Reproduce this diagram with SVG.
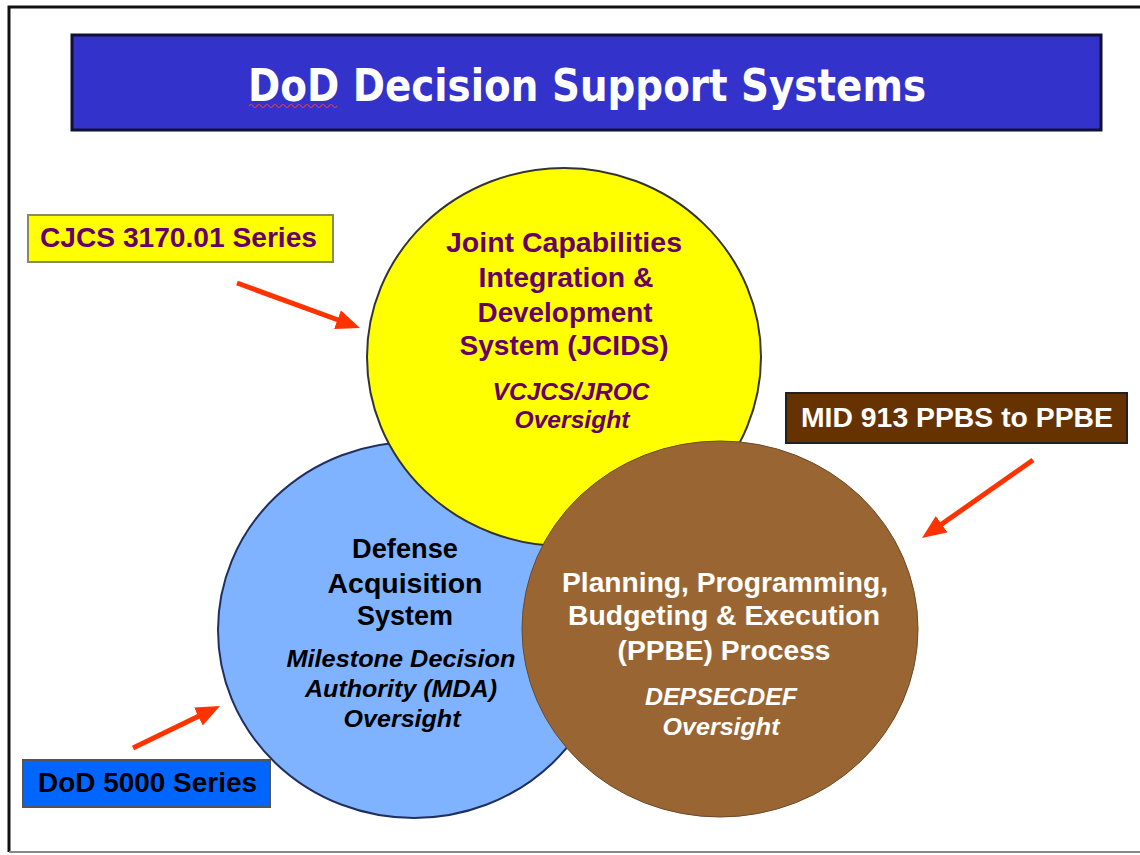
<svg xmlns="http://www.w3.org/2000/svg" width="1140" height="855" viewBox="0 0 1140 855">
<defs>
<style>
.t{font-family:"Liberation Sans",Arial,sans-serif;font-weight:bold;text-anchor:middle}
.m{font-size:27px}
.i{font-size:24px;font-style:italic}
.pur{fill:#660066}
.blk{fill:#000000}
.wht{fill:#FFFFFF}
.arrow{stroke:#FF3300;stroke-width:5;fill:none;marker-end:url(#ah)}
</style>
<marker id="ah" markerUnits="userSpaceOnUse" markerWidth="26" markerHeight="22" refX="11" refY="10" orient="auto">
<path d="M0,0 L24,10 L0,20 z" fill="#FF3300"/>
</marker>
</defs>
<rect x="0" y="0" width="1140" height="855" fill="#FFFFFF"/>
<path d="M9,852 L9,7 L1140,7" fill="none" stroke="#111111" stroke-width="3"/>
<line x1="9" y1="852" x2="1140" y2="852" stroke="#888888" stroke-width="2"/>

<g id="title">
<rect x="72" y="35" width="1029" height="95" fill="#3333CC" stroke="#111133" stroke-width="3"/>
<text x="587" y="101" textLength="678" lengthAdjust="spacingAndGlyphs" style="font-family:'DejaVu Sans',Verdana,sans-serif;font-weight:bold;font-size:45px;fill:#FFFFFF;text-anchor:middle">DoD Decision Support Systems</text>
<path d="M249,106 q2,-3 4,0 t4,0 t4,0 t4,0 t4,0 t4,0 t4,0 t4,0 t4,0 t4,0 t4,0 t4,0 t4,0 t4,0 t4,0 t4,0 t4,0 t4,0 t4,0 t4,0 t4,0 t4,0" fill="none" stroke="#DD4444" stroke-width="1.2"/>
</g>

<g id="das">
<ellipse cx="414" cy="630" rx="196" ry="188" fill="#80B3FF" stroke="#1F2F5F" stroke-width="2"/>
<text class="t m blk" x="405" y="558" textLength="106" lengthAdjust="spacingAndGlyphs">Defense</text>
<text class="t m blk" x="405" y="593" textLength="155" lengthAdjust="spacingAndGlyphs">Acquisition</text>
<text class="t m blk" x="405" y="625" textLength="96" lengthAdjust="spacingAndGlyphs">System</text>
<text class="t i blk" x="401" y="667" textLength="229" lengthAdjust="spacingAndGlyphs">Milestone Decision</text>
<text class="t i blk" x="401" y="697" textLength="192" lengthAdjust="spacingAndGlyphs">Authority (MDA)</text>
<text class="t i blk" x="402" y="727" textLength="117" lengthAdjust="spacingAndGlyphs">Oversight</text>
</g>

<g id="jcids">
<ellipse cx="564" cy="357" rx="197" ry="189" fill="#FFFF00" stroke="#333333" stroke-width="2"/>
<text class="t m pur" x="564" y="252" textLength="236" lengthAdjust="spacingAndGlyphs">Joint Capabilities</text>
<text class="t m pur" x="566" y="287" textLength="175" lengthAdjust="spacingAndGlyphs">Integration &amp;</text>
<text class="t m pur" x="565" y="322" textLength="175" lengthAdjust="spacingAndGlyphs">Development</text>
<text class="t m pur" x="564" y="355" textLength="209" lengthAdjust="spacingAndGlyphs">System (JCIDS)</text>
<text class="t i pur" x="571" y="400" textLength="157" lengthAdjust="spacingAndGlyphs">VCJCS/JROC</text>
<text class="t i pur" x="572" y="428" textLength="115" lengthAdjust="spacingAndGlyphs">Oversight</text>
</g>

<g id="ppbe">
<ellipse cx="720" cy="629" rx="198" ry="188" fill="#996633" stroke="#6B4A2A" stroke-width="1"/>
<text class="t m wht" x="725" y="592" textLength="326" lengthAdjust="spacingAndGlyphs">Planning, Programming,</text>
<text class="t m wht" x="724" y="625" textLength="312" lengthAdjust="spacingAndGlyphs">Budgeting &amp; Execution</text>
<text class="t m wht" x="724" y="660" textLength="213" lengthAdjust="spacingAndGlyphs">(PPBE) Process</text>
<text class="t i wht" x="721" y="705" textLength="152" lengthAdjust="spacingAndGlyphs">DEPSECDEF</text>
<text class="t i wht" x="721" y="735" textLength="117" lengthAdjust="spacingAndGlyphs">Oversight</text>
</g>

<g id="cjcs-label">
<rect x="28" y="215" width="305" height="47" fill="#FFFF00" stroke="#8A8A5A" stroke-width="2"/>
<text class="t m pur" x="178.5" y="247" textLength="277" lengthAdjust="spacingAndGlyphs">CJCS 3170.01 Series</text>
</g>

<g id="mid-label">
<rect x="786" y="393" width="341" height="50" fill="#663300" stroke="#222222" stroke-width="2"/>
<text class="t m wht" x="957" y="427" textLength="312" lengthAdjust="spacingAndGlyphs">MID 913 PPBS to PPBE</text>
</g>

<g id="dod5000-label">
<rect x="23" y="760" width="247" height="47" fill="#0066FF" stroke="#555555" stroke-width="2"/>
<text class="t m blk" x="147.5" y="792" textLength="219" lengthAdjust="spacingAndGlyphs">DoD 5000 Series</text>
</g>

<g id="connectors">
<line class="arrow" x1="237" y1="283" x2="347.8" y2="323.5"/>
<line class="arrow" x1="1033" y1="460" x2="932.6" y2="530.5"/>
<line class="arrow" x1="133" y1="748" x2="208.3" y2="711.6"/>
</g>
</svg>
